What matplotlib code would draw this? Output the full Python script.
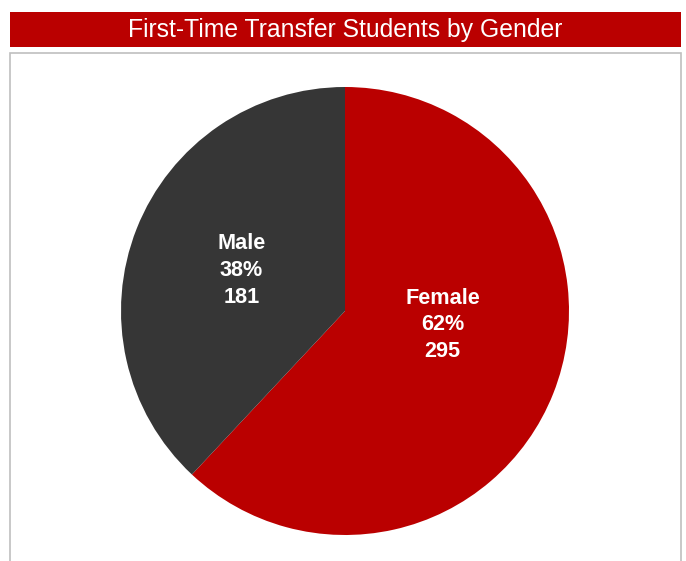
import matplotlib.pyplot as plt
from matplotlib.patches import Rectangle

plt.rcParams["font.family"] = ["Liberation Sans", "DejaVu Sans"]

# data
categories = ["Female", "Male"]
counts = [295, 181]
colors = ["#BA0000", "#363636"]
title = "First-Time Transfer Students by Gender"

W, H = 686, 561
fig = plt.figure(figsize=(W / 100, H / 100), dpi=100)

# title bar and outer box (pixel coords from top-left)
def fig_rect(x0, y0, x1, y1, **kw):
    fig.patches.append(Rectangle((x0 / W, 1 - y1 / H), (x1 - x0) / W, (y1 - y0) / H,
                                 transform=fig.transFigure, figure=fig, **kw))

fig_rect(10, 12, 681, 47, facecolor="#BA0000", edgecolor="none")
fig_rect(10, 53, 681, 575, facecolor="none", edgecolor="#BFBFBF", linewidth=1.2)
fig.text(345.5 / W, 1 - 30 / H, title, color="white", fontsize=17.8,
         ha="center", va="center")

# pie
cx, cy, r = 345, 311, 224
ax = fig.add_axes([(cx - r) / W, 1 - (cy + r) / H, 2 * r / W, 2 * r / H])
wedges, _ = ax.pie(counts, colors=colors, startangle=90, counterclock=False,
                   radius=1, wedgeprops=dict(linewidth=0))
ax.set_xlim(-1, 1)
ax.set_ylim(-1, 1)
ax.set_aspect("equal")
ax.axis("off")

total = sum(counts)
label_pos = [(0.435, -0.062), (-0.462, 0.18)]
for (name, n), (lx, ly) in zip(zip(categories, counts), label_pos):
    ax.text(lx, ly, f"{name}\n{round(100 * n / total)}%\n{n}", color="white",
            fontsize=15.6, fontweight="bold", ha="center", va="center",
            linespacing=1.36)

fig.savefig("out.png", dpi=100)
